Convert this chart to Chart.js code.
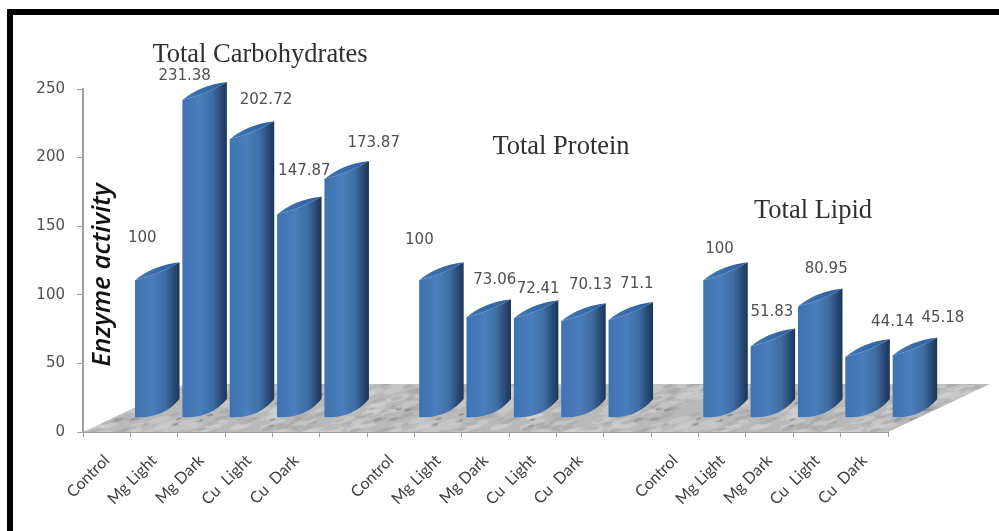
<!DOCTYPE html>
<html>
<head>
<meta charset="utf-8">
<style>
html, body { margin: 0; padding: 0; background: #fff; overflow: hidden; }
canvas { display: block; }
</style>
<script src="https://cdn.jsdelivr.net/npm/chart.js@4"></script>
</head>
<body>
<canvas id="chart" width="999" height="531"></canvas>
<script>
const groupLabels = ['Control', 'Mg Light', 'Mg Dark', 'Cu  Light', 'Cu  Dark'];
const carbohydrates = [100, 231.38, 202.72, 147.87, 173.87];
const protein = [100, 73.06, 72.41, 70.13, 71.1];
const lipid = [100, 51.83, 80.95, 44.14, 45.18];
const yTicks = [0, 50, 100, 150, 200, 250];

// a blank category separates the three groups
const labels = [...groupLabels, '', ...groupLabels, '', ...groupLabels];
const values = [...carbohydrates, null, ...protein, null, ...lipid];

// hand placed value labels, relative to the top of each bar
const labelShift = [
    [-15, -57], [-20, -38], [14, -54], [5, -58], [27, -50], null,
    [-22, -55], [6, -52], [2, -44], [7, -51], [6, -50], null,
    [-6, -46], [-1, -49], [6, -52], [25, -49], [28, -52]
];

const depthX = 102, depthY = 48;   // floor depth
const barDX = 50.6, barDY = 14.5;  // bars stand in the middle of the floor
const curve = 18;

function marble(ctx) {
    const c = document.createElement('canvas');
    c.width = 260; c.height = 90;
    const g = c.getContext('2d');
    g.fillStyle = '#b9b9b9';
    g.fillRect(0, 0, 260, 90);
    for (let i = 0; i < 420; i++) {
        const a = Math.abs(Math.sin(i * 12.9898) * 43758.5453) % 1;
        const b = Math.abs(Math.sin(i * 78.233) * 24634.6345) % 1;
        const d = Math.abs(Math.sin(i * 39.425) * 9631.113) % 1;
        const shade = d > 0.55 ? 212 : (d > 0.12 ? 160 : 105);
        g.fillStyle = 'rgba(' + shade + ',' + shade + ',' + shade + ',0.45)';
        g.beginPath();
        g.ellipse(a * 260, b * 90, 3 + d * 9, 1 + d * 2, -0.25, 0, Math.PI * 2);
        g.fill();
    }
    return ctx.createPattern(c, 'repeat');
}

const extras = {
    id: 'extras',
    beforeDraw(chart) {
        const ctx = chart.ctx;
        ctx.save();
        ctx.fillStyle = '#000';
        ctx.fillRect(7, 9, 992, 6);
        ctx.fillRect(7, 9, 6, 522);
        ctx.restore();
    },
    beforeDatasetsDraw(chart) {
        const { ctx, chartArea: a } = chart;
        ctx.save();
        ctx.fillStyle = marble(ctx);
        ctx.beginPath();
        ctx.moveTo(a.left, a.bottom);
        ctx.lineTo(a.right, a.bottom);
        ctx.lineTo(a.right + depthX, a.bottom - depthY);
        ctx.lineTo(a.left + depthX, a.bottom - depthY);
        ctx.closePath();
        ctx.fill();
        ctx.restore();
    },
    afterDatasetsDraw(chart) {
        const ctx = chart.ctx;
        const bars = chart.getDatasetMeta(0).data;
        ctx.save();
        bars.forEach((bar, i) => {
            if (values[i] === null) return;
            const L = bar.x - bar.width / 2 + barDX;
            const R = bar.x + bar.width / 2 + barDX;
            const top = bar.y - barDY;
            const bot = bar.base - barDY;

            const side = ctx.createLinearGradient(L, 0, R, 0);
            side.addColorStop(0, '#3f72b0');
            side.addColorStop(0.4, '#4b7ebc');
            side.addColorStop(0.68, '#3f6da4');
            side.addColorStop(0.9, '#25466f');
            side.addColorStop(1, '#1c3654');
            ctx.fillStyle = side;
            ctx.beginPath();
            ctx.moveTo(L, top);
            ctx.lineTo(L, bot);
            ctx.quadraticCurveTo(L + 28, bot + 2, R, bot - curve);
            ctx.lineTo(R, top - curve);
            ctx.quadraticCurveTo(L + 24, top - 6, L, top);
            ctx.closePath();
            ctx.fill();

            // top of the cylinder
            const cap = ctx.createLinearGradient(L, 0, R, 0);
            cap.addColorStop(0, '#4277b5');
            cap.addColorStop(1, '#2c5f9e');
            ctx.fillStyle = cap;
            ctx.beginPath();
            ctx.moveTo(L, top);
            ctx.quadraticCurveTo(L + 18, top - 15, R, top - curve);
            ctx.quadraticCurveTo(L + 24, top - 6, L, top);
            ctx.closePath();
            ctx.fill();

            // value label
            const s = labelShift[i];
            ctx.font = '15px "DejaVu Sans"';
            ctx.fillStyle = '#505050';
            ctx.textAlign = 'center';
            ctx.textBaseline = 'middle';
            ctx.fillText(String(values[i]), bar.x + barDX + s[0], bar.y + s[1]);
        });

        // group titles
        ctx.font = '26.5px "Liberation Serif"';
        ctx.fillStyle = '#303030';
        ctx.fillText('Total Carbohydrates', 260, 55);
        ctx.fillText('Total Protein', 561, 147);
        ctx.fillText('Total Lipid', 813, 211);

        // axis title sits inside the plot
        ctx.translate(103, 275);
        ctx.rotate(-Math.PI / 2);
        ctx.font = 'italic 600 26px "Open Sans"';
        ctx.fillStyle = '#111';
        ctx.fillText('Enzyme activity', 0, 0);
        ctx.restore();
    }
};

new Chart(document.getElementById('chart'), {
    type: 'bar',
    data: {
        labels: labels,
        datasets: [{
            data: values,
            backgroundColor: 'rgba(0,0,0,0)',
            categoryPercentage: 1,
            barPercentage: 0.94
        }]
    },
    plugins: [extras],
    options: {
        responsive: false,
        animation: false,
        layout: { padding: { top: 89, right: 111, left: 0, bottom: 0 } },
        plugins: { legend: { display: false }, tooltip: { enabled: false } },
        scales: {
            x: {
                afterFit: (s) => { s.height = 99; },
                grid: { drawOnChartArea: false, tickLength: 5, color: '#a0a0a0' },
                border: { color: '#a0a0a0', width: 2 },
                ticks: {
                    autoSkip: false,
                    minRotation: 45,
                    maxRotation: 45,
                    padding: 14,
                    color: '#404040',
                    font: { family: 'Lato', size: 16 }
                }
            },
            y: {
                min: 0,
                max: 250,
                afterFit: (s) => { s.width = 83; },
                afterBuildTicks: (s) => { s.ticks = yTicks.map(v => ({ value: v })); },
                grid: { drawOnChartArea: false, tickLength: 6, color: '#a0a0a0' },
                border: { color: '#a0a0a0', width: 2 },
                ticks: {
                    padding: 12,
                    color: '#505050',
                    font: { family: 'DejaVu Sans', size: 15 }
                }
            }
        }
    }
});
</script>
</body>
</html>
